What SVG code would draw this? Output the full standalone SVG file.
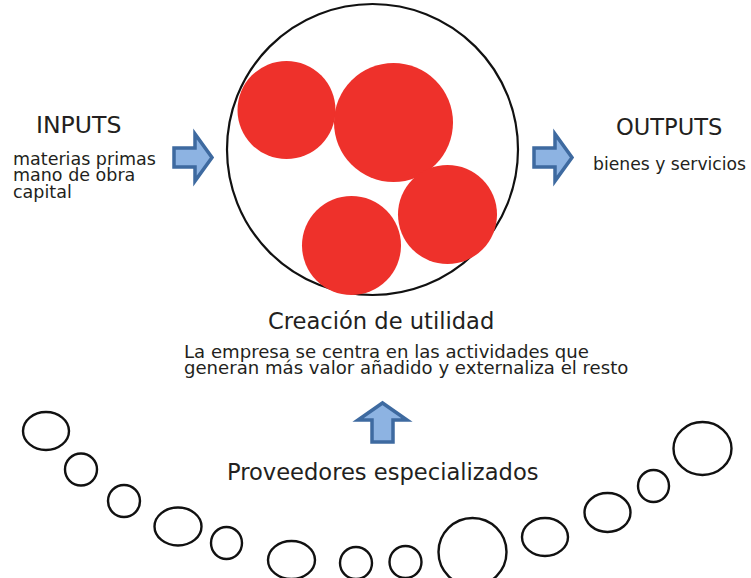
<svg xmlns="http://www.w3.org/2000/svg" width="751" height="578" viewBox="0 0 751 578">
<style>
text{font-family:"DejaVu Sans","Liberation Sans",sans-serif;fill:#231F20}
.big{font-size:22.6px}
.sm{font-size:17.5px}
.red{fill:#EE312B}
.bub{fill:none;stroke:#111;stroke-width:2.4}
.arr{fill:#8DB3E2;stroke:#3E6AA0;stroke-width:3.5;stroke-linejoin:miter}
</style>
<rect width="751" height="578" fill="#fff"/>
<g id="empresa">
<circle cx="372.5" cy="149.5" r="145.5" fill="#fff" stroke="#111" stroke-width="2.2"/>
<circle class="red" cx="286.5" cy="110" r="49"/>
<circle class="red" cx="393.5" cy="122.5" r="59.5"/>
<circle class="red" cx="447.5" cy="214.5" r="49.5"/>
<circle class="red" cx="351.5" cy="245.5" r="49.5"/>
</g>
<g id="inputs">
<text class="big" x="36" y="133" style="font-size:23.6px">INPUTS</text>
<text class="sm" x="13" y="164.5">materias primas</text>
<text class="sm" x="13" y="181">mano de obra</text>
<text class="sm" x="13" y="197.5">capital</text>
</g>
<g id="outputs">
<text class="big" x="616" y="135">OUTPUTS</text>
<text class="sm" x="593" y="170" style="font-size:17.2px">bienes y servicios</text>
</g>
<g id="creacion">
<text class="big" x="268" y="329">Creación de utilidad</text>
<text class="sm" x="184" y="357.5" style="font-size:18.1px">La empresa se centra en las actividades que</text>
<text class="sm" x="184" y="374" style="font-size:18.1px">generan más valor añadido y externaliza el resto</text>
</g>
<g id="proveedores">
<text class="big" x="227" y="480">Proveedores especializados</text>
<ellipse class="bub" cx="46" cy="431" rx="23" ry="19"/>
<ellipse class="bub" cx="81" cy="469.5" rx="16" ry="16"/>
<ellipse class="bub" cx="124" cy="501" rx="16" ry="16"/>
<ellipse class="bub" cx="178" cy="526.5" rx="23.5" ry="19"/>
<ellipse class="bub" cx="226.5" cy="543" rx="15.5" ry="16"/>
<ellipse class="bub" cx="291.5" cy="560" rx="23.5" ry="19"/>
<ellipse class="bub" cx="356" cy="563" rx="16" ry="16"/>
<ellipse class="bub" cx="405.5" cy="562" rx="16" ry="16"/>
<ellipse class="bub" cx="472.5" cy="552" rx="34" ry="34"/>
<ellipse class="bub" cx="545" cy="537" rx="23" ry="19"/>
<ellipse class="bub" cx="607.5" cy="512.5" rx="23" ry="19.5"/>
<ellipse class="bub" cx="653.5" cy="486" rx="15.5" ry="16"/>
<ellipse class="bub" cx="702.5" cy="448.5" rx="29" ry="26.5"/>
</g>
<g id="connectors">
<polygon class="arr" points="174,148 195,148 195,134 212,157.5 195,181 195,167 174,167"/>
<polygon class="arr" points="534,148 555,148 555,134 572,157.5 555,181 555,167 534,167"/>
<polygon class="arr" points="372,442 372,420 358,420 382.5,403 407,420 393,420 393,442"/>
</g>
</svg>
